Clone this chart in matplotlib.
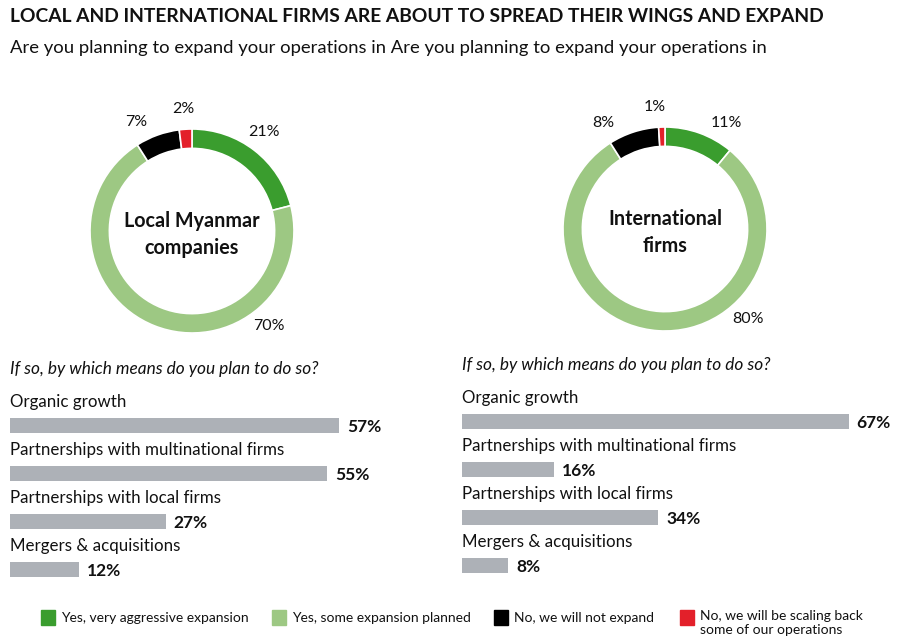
import numpy as np
import matplotlib
matplotlib.use('Agg')
from matplotlib import pyplot as plt
from matplotlib.patches import Rectangle

plt.rcParams['font.family'] = ['Lato', 'DejaVu Sans']

W, H = 900, 644

# data
title = 'LOCAL AND INTERNATIONAL FIRMS ARE ABOUT TO SPREAD THEIR WINGS AND EXPAND'
subtitle = 'Are you planning to expand your operations in Are you planning to expand your operations in'
legend_labels = ['Yes, very aggressive expansion', 'Yes, some expansion planned',
                 'No, we will not expand', 'No, we will be scaling back\nsome of our operations']
local_share = [21, 70, 7, 2]
intl_share = [11, 80, 8, 1]
means = ['Organic growth', 'Partnerships with multinational firms',
         'Partnerships with local firms', 'Mergers & acquisitions']
local_means = [57, 55, 27, 12]
intl_means = [67, 16, 34, 8]
question = 'If so, by which means do you plan to do so?'

colors = ['#3a9d2e', '#9dc883', '#000000', '#e3202a']
bar_color = '#adb1b7'
ink = '#111111'


def fx(x):
    return x / W


def fy(y):
    return 1 - y / H


def donut(fig, cx, cy, r, shares, center_text, label_angles):
    ax = fig.add_axes([fx(cx - r), fy(cy + r), 2 * r / W, 2 * r / H])
    ax.pie(shares, colors=colors, startangle=90, counterclock=False, radius=1,
           wedgeprops=dict(width=0.19, edgecolor='white', linewidth=1.2))
    ax.set_xlim(-1, 1)
    ax.set_ylim(-1, 1)
    ax.set_aspect('auto')
    ax.axis('off')
    for v, a in zip(shares, label_angles):
        t = np.deg2rad(a)
        ax.text(1.2 * np.cos(t), 1.2 * np.sin(t), f'{v}%', ha='center', va='center',
                fontsize=11.5, color=ink, clip_on=False)
    ax.text(0, -0.035, center_text, ha='center', va='center', fontsize=14.2,
            fontweight='bold', color=ink, linespacing=1.45)


def bars(fig, left, top, values):
    # one category per 48 px row, 5.77 px per percentage point
    ax = fig.add_axes([fx(left), fy(top + 205), 440 / W, 205 / H])
    ax.set_xlim(0, 440 / 5.77)
    ax.set_ylim(3.32, -0.95)
    y = np.arange(len(values))
    ax.barh(y, values, height=0.32, color=bar_color, align='center')
    for i, (name, v) in enumerate(zip(means, values)):
        ax.text(0, i - 0.49, name, ha='left', va='center', fontsize=12.2, color=ink)
        ax.text(v + 1.4, i + 0.03, f'{v}%', ha='left', va='center', fontsize=12.5,
                fontweight='bold', color=ink)
    ax.axis('off')
    fig.text(fx(left), fy(top - 11), question, ha='left', va='center', fontsize=12.4,
             style='italic', color=ink)


fig = plt.figure(figsize=(W / 100, H / 100), dpi=100)
fig.patch.set_facecolor('white')

fig.text(fx(10), fy(16), title, ha='left', va='center', fontsize=13.9,
         fontweight='bold', color=ink)
fig.text(fx(10), fy(48), subtitle, ha='left', va='center', fontsize=13.3, color=ink)

donut(fig, 192, 231, 102, local_share, 'Local Myanmar\ncompanies', [54, -51, 117, 94])
donut(fig, 665, 229, 102, intl_share, 'International\nfirms', [60, -47, 120, 95])

bars(fig, 10, 380, local_means)
bars(fig, 462, 376, intl_means)

# legend
lx = [41, 272, 494, 680]
for x, c, lab in zip(lx, colors, legend_labels):
    fig.patches.append(Rectangle((fx(x), fy(625)), 14 / W, 15 / H, color=c,
                                 transform=fig.transFigure, figure=fig))
    yy = 618 if '\n' not in lab else 623
    fig.text(fx(x + 20), fy(yy), lab, ha='left', va='center', fontsize=10,
             color=ink, linespacing=1.25)

fig.savefig('out.png', dpi=100, facecolor='white')
